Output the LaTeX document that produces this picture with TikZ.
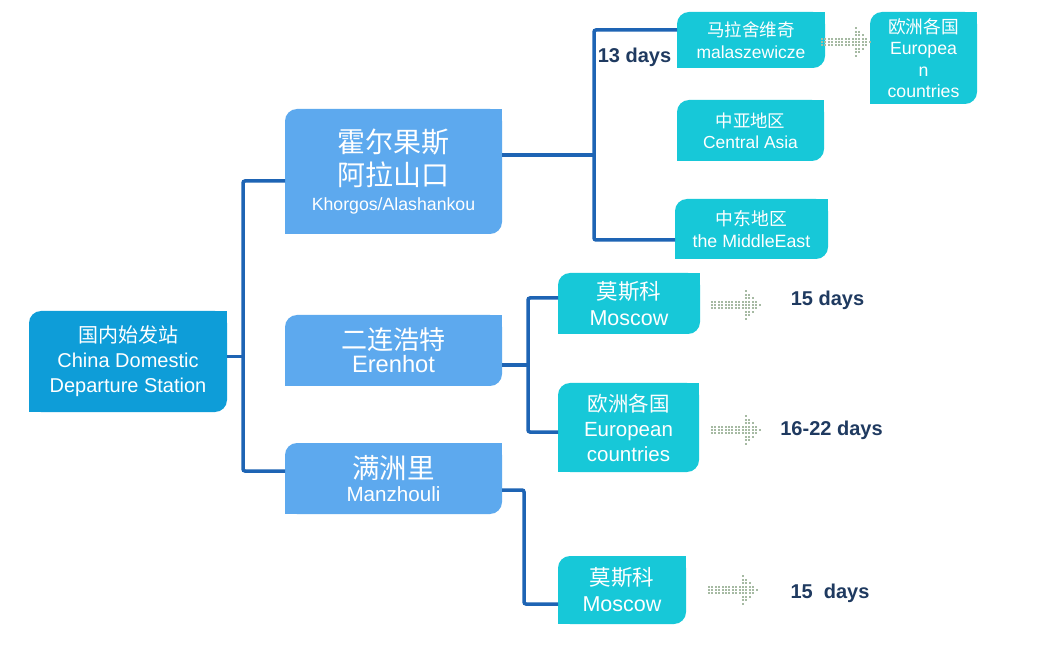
\documentclass[tikz,border=0pt]{standalone}
\usepackage{fontspec}
\setmainfont{Liberation Sans}
\newfontfamily\cjk{Noto Sans CJK SC}
\definecolor{rootc}{HTML}{0E9DD8}
\definecolor{midc}{HTML}{5DA9EE}
\definecolor{cyanc}{HTML}{17C8D8}
\definecolor{linec}{HTML}{1E64B4}
\definecolor{dayc}{HTML}{1F3A60}
\definecolor{arrowc}{HTML}{A6BAA3}
\tikzset{
 boxn/.style={inner sep=0pt, outer sep=0pt, text=white, align=center, path picture={
   \fill[#1, rounded corners=12pt] (path picture bounding box.south west) rectangle (path picture bounding box.north east);
   \fill[#1] (path picture bounding box.center) rectangle (path picture bounding box.north east);
   \fill[#1] (path picture bounding box.south west) rectangle (path picture bounding box.center);}},
 conn/.style={draw=linec, line width=3.5pt, rounded corners=2pt},
 daytext/.style={text=dayc, font=\fontsize{20}{24}\selectfont\bfseries, inner sep=0pt},
 dotarrow/.pic={
   \foreach \i in {0,...,9}{\foreach \j in {-1,0,1}{\fill[arrowc] (\i*3.4,\j*3.4) ++(-1,-1) rectangle ++(2,2);}}
   \foreach \c/\r in {10/4,11/3,12/2,13/1}{\foreach \j in {-\r,...,\r}{\fill[arrowc] (\c*3.4,\j*3.4) ++(-1,-1) rectangle ++(2,2);}}
   \fill[arrowc] (14*3.4,0) ++(-1,-1) rectangle ++(2,2);
 }
}
\begin{document}
\begin{tikzpicture}[x=1pt,y=-1pt]
\fill[white] (0,0) rectangle (1042,668);
\useasboundingbox (0,0) rectangle (1042,668);

% boxes
\node[boxn=rootc, minimum width=198pt, minimum height=101pt, font=\fontsize{20}{25}\selectfont] (root) at (128,361.5) {{\cjk 国内始发站}\\China Domestic\\Departure Station};
\node[boxn=midc, minimum width=217pt, minimum height=125pt, font=\fontsize{28}{33}\selectfont] (khorgos) at (393.5,171.5) {{\cjk 霍尔果斯}\\{\cjk 阿拉山口}\\[-8pt]{\fontsize{17.7}{20}\selectfont Khorgos/Alashankou}};
\node[boxn=midc, minimum width=217pt, minimum height=71pt, font=\fontsize{26}{23}\selectfont] (erenhot) at (393.5,350.5) {{\cjk 二连浩特}\\{\fontsize{23.7}{23}\selectfont Erenhot}};
\node[boxn=midc, minimum width=217pt, minimum height=71pt, font=\fontsize{27.5}{23}\selectfont] (manzhouli) at (393.5,478.5) {{\cjk 满洲里}\\{\fontsize{20.6}{23}\selectfont Manzhouli}};

\node[boxn=cyanc, minimum width=148pt, minimum height=56pt, font=\fontsize{17.5}{22}\selectfont] (mala) at (751,40) {{\cjk 马拉舍维奇}\\malaszewicze};
\node[boxn=cyanc, minimum width=107pt, minimum height=92pt, font=\fontsize{17.7}{21.3}\selectfont] (euro1) at (923.5,58) {{\cjk 欧洲各国}\\Europea\\n\\countries};
\node[boxn=cyanc, minimum width=147pt, minimum height=61pt, font=\fontsize{17.4}{21}\selectfont] (casia) at (750.5,130.5) {{\cjk 中亚地区}\\Central Asia};
\node[boxn=cyanc, minimum width=153pt, minimum height=60pt, font=\fontsize{17.8}{22}\selectfont] (meast) at (751.5,229) {{\cjk 中东地区}\\the MiddleEast};

\node[boxn=cyanc, minimum width=142pt, minimum height=61pt, font=\fontsize{21.5}{26}\selectfont] (mos1) at (629,303.5) {{\cjk 莫斯科}\\Moscow};
\node[boxn=cyanc, minimum width=141pt, minimum height=89pt, font=\fontsize{20.5}{25}\selectfont] (euro2) at (628.5,427.5) {{\cjk 欧洲各国}\\European\\countries};
\node[boxn=cyanc, minimum width=128pt, minimum height=68pt, font=\fontsize{21.5}{26}\selectfont] (mos2) at (622,590) {{\cjk 莫斯科}\\Moscow};

% connectors
\draw[conn] ([yshift=5pt]root.east) -- ++(16,0);
\draw[conn] ([yshift=-9.5pt]khorgos.west) -- ++(-42,0) |- ([yshift=7.5pt]manzhouli.west);
\draw[conn] ([yshift=16.5pt]khorgos.east) -- ++(92,0);
\draw[conn] ([yshift=10pt]mala.west) -- ++(-83,0) |- ([yshift=-11pt]meast.west);
\draw[conn] ([yshift=-14.5pt]erenhot.east) -- ++(26,0);
\draw[conn] ([yshift=5.5pt]mos1.west) -- ++(-30,0) |- ([yshift=-4.5pt]euro2.west);
\draw[conn] ([yshift=-11.5pt]manzhouli.east) -- ++(22,0) |- ([yshift=-14pt]mos2.west);

% dotted arrows
\pic at (822,42) {dotarrow};
\pic at (712,305) {dotarrow};
\pic at (712,430) {dotarrow};
\pic at (709,590) {dotarrow};

% day labels
\node[daytext] (d13) at (634.5,57) {13 days};
\node[daytext] (d15a) at (827.5,300) {15 days};
\node[daytext] (d1622) at (831.5,430) {16-22 days};
\node[daytext] (d15b) at (830,593) {15\ \ days};
\end{tikzpicture}
\end{document}
